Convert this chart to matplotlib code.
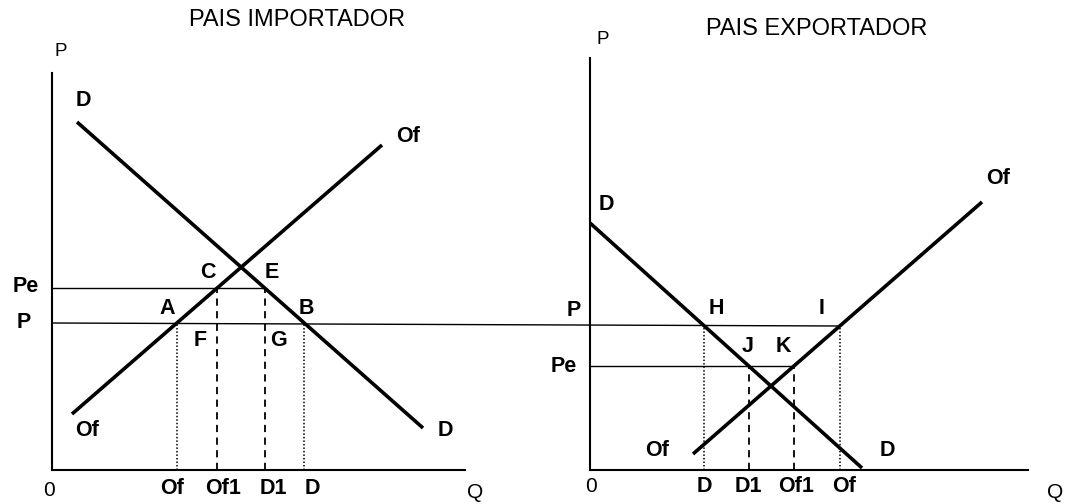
import numpy as np
import matplotlib.pyplot as plt
from matplotlib.patches import ConnectionPatch

plt.rcParams['font.family'] = ['Liberation Sans', 'DejaVu Sans']

# Importing country (units ~ 10 px of the original drawing)
imp_demand_q = [2.5, 37.1]
imp_demand_p = [34.8, 4.2]
imp_supply_q = [2.0, 33.0]
imp_supply_p = [5.6, 32.5]
imp_world_price = 14.7   # P
imp_tariff_price = 18.2  # Pe
imp_xmax, imp_ymax = 41.3, 39.7

# Exporting country
exp_demand_q = [0.0, 27.2]
exp_demand_p = [24.7, 0.2]
exp_supply_q = [10.3, 39.2]
exp_supply_p = [1.6, 26.8]
exp_world_price = 14.4   # P
exp_low_price = 10.4     # Pe
exp_xmax, exp_ymax = 43.8, 41.2


def q_at(price, qs, ps):
    # quantity on a straight line for a given price
    slope = (ps[1] - ps[0]) / (qs[1] - qs[0])
    return qs[0] + (price - ps[0]) / slope


fig = plt.figure(figsize=(10.69, 5.04), dpi=100)
ax1 = fig.add_axes([52 / 1069, 34 / 504, 413 / 1069, 397 / 504])
ax2 = fig.add_axes([590 / 1069, 34 / 504, 438 / 1069, 412 / 504])

for ax, xm, ym in [(ax1, imp_xmax, imp_ymax), (ax2, exp_xmax, exp_ymax)]:
    ax.set_xlim(0, xm)
    ax.set_ylim(0, ym)
    ax.spines['top'].set_visible(False)
    ax.spines['right'].set_visible(False)
    ax.spines['left'].set_linewidth(1.5)
    ax.spines['bottom'].set_linewidth(1.5)
    ax.set_xticks([])
    ax.set_yticks([])
    ax.patch.set_alpha(0)

curve = dict(color='black', lw=2.6, solid_capstyle='butt')
thin = dict(color='black', lw=1.0)
dash = dict(color='black', lw=1.3, linestyle=(0, (4, 3)))
dots = dict(color='black', lw=1.1, linestyle=(0, (1, 1.3)))
lab = dict(fontsize=15.5, fontweight='bold', ha='center', va='center')
bot = dict(fontsize=15.5, fontweight='bold', ha='center', va='center')
axl = dict(fontsize=15, ha='center', va='center')
ttl = dict(fontsize=17, ha='center', va='center')

# ---------------- PAIS IMPORTADOR ----------------
ax1.plot(imp_demand_q, imp_demand_p, **curve)
ax1.plot(imp_supply_q, imp_supply_p, **curve)

of_q = q_at(imp_world_price, imp_supply_q, imp_supply_p)
d_q = q_at(imp_world_price, imp_demand_q, imp_demand_p)
of1_q = q_at(imp_tariff_price, imp_supply_q, imp_supply_p)
d1_q = q_at(imp_tariff_price, imp_demand_q, imp_demand_p)

ax1.plot([0, d1_q], [imp_tariff_price] * 2, **thin)
ax1.plot([of_q, of_q], [0, imp_world_price], **dots)
ax1.plot([d_q, d_q], [0, imp_world_price], **dots)
ax1.plot([of1_q, of1_q], [0, imp_tariff_price], **dash)
ax1.plot([d1_q, d1_q], [0, imp_tariff_price], **dash)

ax1.text(24.5, 45.0, 'PAIS IMPORTADOR', **ttl)
ax1.text(0.9, 41.9, 'P', fontsize=13.5, ha='center', va='center')
ax1.text(3.1, 37.0, 'D', **lab)
ax1.text(35.6, 33.4, 'Of', **lab)
ax1.text(15.6, 19.8, 'C', **lab)
ax1.text(22.0, 19.8, 'E', **lab)
ax1.text(-2.6, 18.3, 'Pe', **lab)
ax1.text(11.5, 16.1, 'A', **lab)
ax1.text(25.4, 16.1, 'B', **lab)
ax1.text(-2.8, 14.7, 'P', **lab)
ax1.text(14.8, 12.9, 'F', **lab)
ax1.text(22.6, 12.9, 'G', **lab)
ax1.text(3.5, 4.0, 'Of', **lab)
ax1.text(39.3, 4.0, 'D', **lab)
ax1.text(-0.3, -2.0, '0', **axl)
ax1.text(42.3, -2.2, 'Q', **axl)
for name, q in [('Of', of_q - 0.5), ('Of1', of1_q + 0.6), ('D1', d1_q + 0.9), ('D', d_q + 0.8)]:
    ax1.text(q, -1.9, name, **bot)

# ---------------- PAIS EXPORTADOR ----------------
ax2.plot(exp_demand_q, exp_demand_p, **curve)
ax2.plot(exp_supply_q, exp_supply_p, **curve)

d_q2 = q_at(exp_world_price, exp_demand_q, exp_demand_p)
of_q2 = q_at(exp_world_price, exp_supply_q, exp_supply_p)
d1_q2 = q_at(exp_low_price, exp_demand_q, exp_demand_p)
of1_q2 = q_at(exp_low_price, exp_supply_q, exp_supply_p)

ax2.plot([0, of1_q2], [exp_low_price] * 2, **thin)
ax2.plot([d_q2, d_q2], [0, exp_world_price], **dots)
ax2.plot([of_q2, of_q2], [0, exp_world_price], **dots)
ax2.plot([d1_q2, d1_q2], [0, exp_low_price], **dash)
ax2.plot([of1_q2, of1_q2], [0, exp_low_price], **dash)

# world price line P runs from the importer's axis to point I
con = ConnectionPatch(xyA=(0, imp_world_price), coordsA=ax1.transData,
                      xyB=(of_q2, exp_world_price), coordsB=ax2.transData,
                      color='black', lw=1.0)
fig.add_artist(con)

ax2.text(22.7, 44.1, 'PAIS EXPORTADOR', **ttl)
ax2.text(1.3, 43.0, 'P', fontsize=13.5, ha='center', va='center')
ax2.text(1.6, 26.6, 'D', **lab)
ax2.text(40.8, 29.2, 'Of', **lab)
ax2.text(-1.6, 15.9, 'P', **lab)
ax2.text(12.6, 16.2, 'H', **lab)
ax2.text(23.2, 16.2, 'I', **lab)
ax2.text(15.8, 12.3, 'J', **lab)
ax2.text(19.3, 12.3, 'K', **lab)
ax2.text(-2.6, 10.4, 'Pe', **lab)
ax2.text(6.7, 1.9, 'Of', **lab)
ax2.text(29.7, 1.9, 'D', **lab)
ax2.text(0.1, -1.7, '0', **axl)
ax2.text(46.5, -2.2, 'Q', **axl)
for name, q in [('D', d_q2), ('D1', d1_q2), ('Of1', of1_q2 + 0.2), ('Of', of_q2 + 0.4)]:
    ax2.text(q, -1.6, name, **bot)

fig.savefig('out.png', dpi=100)
